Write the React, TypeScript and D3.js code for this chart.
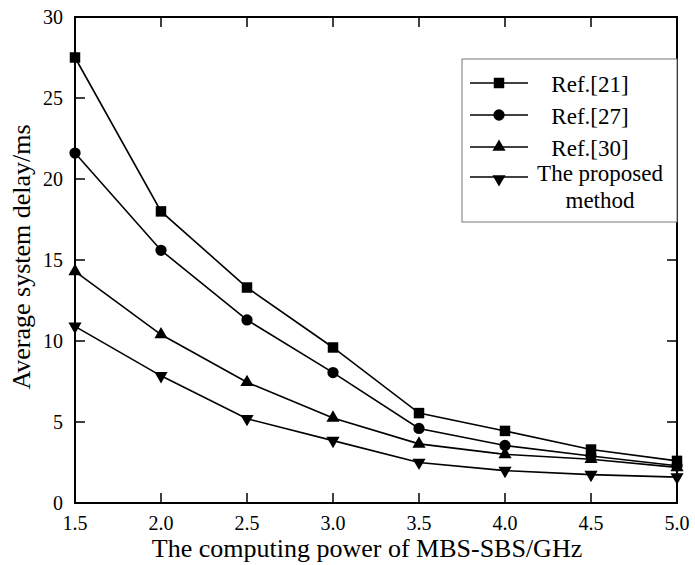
import * as d3 from "d3";
import { useEffect, useRef } from "react";

const xValues = [1.5, 2.0, 2.5, 3.0, 3.5, 4.0, 4.5, 5.0];
const ref21 = [27.5, 18.0, 13.3, 9.6, 5.55, 4.45, 3.3, 2.6];
const ref27 = [21.6, 15.6, 11.3, 8.05, 4.6, 3.55, 2.9, 2.3];
const ref30 = [14.3, 10.4, 7.45, 5.25, 3.65, 3.0, 2.7, 2.2];
const proposed = [10.9, 7.85, 5.2, 3.85, 2.5, 2.0, 1.75, 1.6];

const seriesNames = ["Ref.[21]", "Ref.[27]", "Ref.[30]", "The proposed method"];
const xTicks = [1.5, 2.0, 2.5, 3.0, 3.5, 4.0, 4.5, 5.0];
const yTicks = [0, 5, 10, 15, 20, 25, 30];

const WIDTH = 695;
const HEIGHT = 565;
const FONT = "'Liberation Serif', 'Times New Roman', serif";

export default function App() {
  const svgRef = useRef<SVGSVGElement>(null);

  useEffect(() => {
    if (!svgRef.current) return;
    const svg = d3.select(svgRef.current);
    svg.selectAll("*").remove();

    const left = 75;
    const right = 677;
    const top = 17;
    const bottom = 503;

    const x = d3.scaleLinear().domain([1.5, 5.0]).range([left, right]);
    const y = d3.scaleLinear().domain([0, 30]).range([bottom, top]);

    const series = [ref21, ref27, ref30, proposed];
    const symbols = [
      { type: d3.symbolSquare, size: 110, rotate: 0 },
      { type: d3.symbolCircle, size: 100, rotate: 0 },
      { type: d3.symbolTriangle, size: 75, rotate: 0 },
      { type: d3.symbolTriangle, size: 75, rotate: 180 },
    ];

    // inward ticks on all four sides
    const tickLen = 10;
    const ticks = svg.append("g").attr("stroke", "#000").attr("stroke-width", 1.5);
    xTicks.forEach((t) => {
      ticks.append("line").attr("x1", x(t)).attr("x2", x(t)).attr("y1", bottom).attr("y2", bottom - tickLen);
      ticks.append("line").attr("x1", x(t)).attr("x2", x(t)).attr("y1", top).attr("y2", top + tickLen);
    });
    yTicks.forEach((t) => {
      ticks.append("line").attr("x1", left).attr("x2", left + tickLen).attr("y1", y(t)).attr("y2", y(t));
      ticks.append("line").attr("x1", right).attr("x2", right - tickLen).attr("y1", y(t)).attr("y2", y(t));
    });

    // tick labels
    svg
      .append("g")
      .selectAll("text")
      .data(xTicks)
      .join("text")
      .attr("x", (d) => x(d))
      .attr("y", 530)
      .attr("text-anchor", "middle")
      .attr("font-family", FONT)
      .attr("font-size", 20)
      .text((d) => d.toFixed(1));

    svg
      .append("g")
      .selectAll("text")
      .data(yTicks)
      .join("text")
      .attr("x", left - 12)
      .attr("y", (d) => y(d))
      .attr("dy", "0.35em")
      .attr("text-anchor", "end")
      .attr("font-family", FONT)
      .attr("font-size", 20)
      .text((d) => d);

    // lines + markers
    const line = d3
      .line<number>()
      .x((_, i) => x(xValues[i]))
      .y((d) => y(d));

    series.forEach((vals, si) => {
      svg
        .append("path")
        .datum(vals)
        .attr("fill", "none")
        .attr("stroke", "#000")
        .attr("stroke-width", 1.6)
        .attr("d", line);

      const sym = d3.symbol().type(symbols[si].type).size(symbols[si].size);
      svg
        .append("g")
        .selectAll("path")
        .data(vals)
        .join("path")
        .attr("d", sym)
        .attr("fill", "#000")
        .attr("transform", (d, i) => `translate(${x(xValues[i])},${y(d)}) rotate(${symbols[si].rotate})`);
    });

    // frame
    svg
      .append("rect")
      .attr("x", left)
      .attr("y", top)
      .attr("width", right - left)
      .attr("height", bottom - top)
      .attr("fill", "none")
      .attr("stroke", "#000")
      .attr("stroke-width", 2);

    // legend
    const lg = svg.append("g");
    lg.append("rect")
      .attr("x", 462)
      .attr("y", 59)
      .attr("width", 215)
      .attr("height", 163)
      .attr("fill", "#fff")
      .attr("stroke", "#777")
      .attr("stroke-width", 1);

    const rowY = [83, 115, 147, 177];
    seriesNames.forEach((name, i) => {
      lg.append("line")
        .attr("x1", 470)
        .attr("x2", 528)
        .attr("y1", rowY[i])
        .attr("y2", rowY[i])
        .attr("stroke", "#000")
        .attr("stroke-width", 1.6);
      lg.append("path")
        .attr("d", d3.symbol().type(symbols[i].type).size(symbols[i].size)())
        .attr("fill", "#000")
        .attr("transform", `translate(499,${rowY[i] + (i === 3 ? 2 : 0)}) rotate(${symbols[i].rotate})`);

      if (i < 3) {
        lg.append("text")
          .attr("x", 590)
          .attr("y", rowY[i] + 9)
          .attr("text-anchor", "middle")
          .attr("font-family", FONT)
          .attr("font-size", 23)
          .text(name);
      } else {
        const t = lg
          .append("text")
          .attr("text-anchor", "middle")
          .attr("font-family", FONT)
          .attr("font-size", 23);
        t.append("tspan").attr("x", 600).attr("y", 181).text("The proposed");
        t.append("tspan").attr("x", 600).attr("y", 208).text("method");
      }
    });

    // axis titles
    svg
      .append("text")
      .attr("x", 367)
      .attr("y", 557)
      .attr("text-anchor", "middle")
      .attr("font-family", FONT)
      .attr("font-size", 26)
      .text("The computing power of MBS-SBS/GHz");

    svg
      .append("text")
      .attr("transform", "translate(30,257) rotate(-90)")
      .attr("text-anchor", "middle")
      .attr("font-family", FONT)
      .attr("font-size", 26)
      .text("Average system delay/ms");
  }, []);

  return (
    <svg
      ref={svgRef}
      width={WIDTH}
      height={HEIGHT}
      style={{ position: "absolute", left: 0, top: 0, background: "#fff" }}
    />
  );
}
